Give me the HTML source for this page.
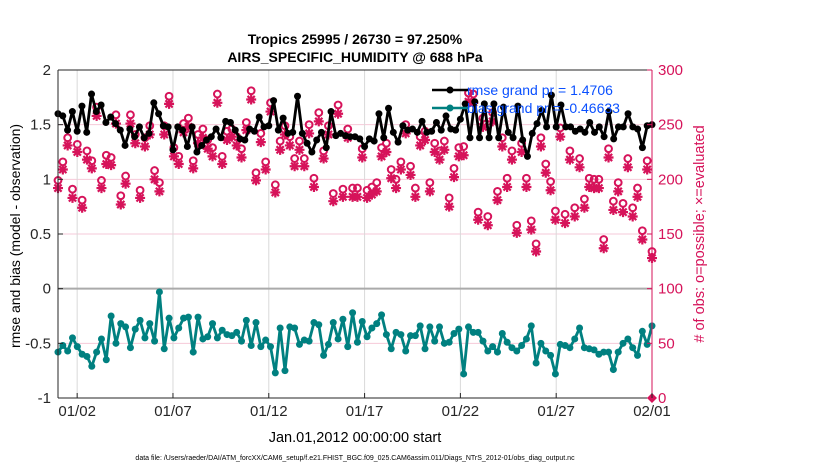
<!DOCTYPE html>
<html><head><meta charset="utf-8">
<style>
html,body{margin:0;padding:0;background:#fff;}
svg{display:block;font-family:"Liberation Sans",Arial,sans-serif;}
</style></head>
<body>
<svg id="chart" width="830" height="470" viewBox="0 0 830 470" xmlns="http://www.w3.org/2000/svg">
<rect width="830" height="470" fill="#fff"/>
<text x="355" y="44" text-anchor="middle" font-size="14" font-weight="bold">Tropics 25995 / 26730 = 97.250%</text>
<text x="355" y="62" text-anchor="middle" font-size="14" font-weight="bold">AIRS_SPECIFIC_HUMIDITY @ 688 hPa</text>
<g id="grid"></g>
<g id="marks"></g>
<g id="axes"></g>
<text transform="translate(20,236) rotate(-90)" text-anchor="middle" font-size="14">rmse and bias (model - observation)</text>
<text transform="translate(704,234) rotate(-90)" text-anchor="middle" font-size="14.5" fill="#d6135a"># of obs: o=possible; ×=evaluated</text>
<text x="355" y="442" text-anchor="middle" font-size="14.5">Jan.01,2012 00:00:00 start</text>
<text x="355" y="460" text-anchor="middle" font-size="7">data file: /Users/raeder/DAI/ATM_forcXX/CAM6_setup/f.e21.FHIST_BGC.f09_025.CAM6assim.011/Diags_NTrS_2012-01/obs_diag_output.nc</text>
<g id="legend">
<line x1="432" y1="90" x2="468" y2="90" stroke="#000" stroke-width="2.5"/><circle cx="450" cy="90" r="3.5" fill="#000"/>
<text x="467" y="95" font-size="14" fill="#0a50ff">rmse grand pr = 1.4706</text>
<line x1="432" y1="108" x2="468" y2="108" stroke="#008080" stroke-width="2.5"/><circle cx="450" cy="108" r="3.5" fill="#008080"/>
<text x="467" y="113" font-size="14" fill="#0a50ff">bias grand pr = -0.46633</text>
</g>
</svg>
<script>
const rmseValues=[1.60,1.58,1.45,1.62,1.44,1.67,1.43,1.78,1.62,1.68,1.52,1.57,1.51,1.45,1.31,1.46,1.39,1.48,1.38,1.42,1.70,1.60,1.49,1.48,1.27,1.48,1.45,1.30,1.48,1.25,1.31,1.36,1.39,1.46,1.38,1.53,1.52,1.45,1.37,1.36,1.46,1.44,1.57,1.48,1.49,1.72,1.45,1.56,1.42,1.43,1.76,1.42,1.33,1.25,1.36,1.43,1.29,1.62,1.40,1.42,1.40,1.39,
1.39,1.37,1.30,1.37,1.35,1.60,1.38,1.65,1.43,1.34,1.49,1.45,1.46,1.43,1.53,1.43,1.44,1.52,1.45,1.58,1.46,1.45,1.55,1.69,1.38,1.71,1.38,1.69,1.38,1.69,1.38,1.66,1.43,1.38,1.67,1.36,1.21,1.42,1.51,1.63,1.48,1.77,1.48,1.68,1.48,1.48,1.44,1.46,1.43,1.52,1.43,1.48,1.39,1.62,1.37,1.48,1.48,1.60,1.48,1.46,1.29,1.49,1.50];
const biasValues=[-0.58,-0.52,-0.57,-0.45,-0.53,-0.60,-0.62,-0.71,-0.58,-0.46,-0.65,-0.25,-0.50,-0.32,-0.35,-0.54,-0.37,-0.29,-0.45,-0.32,-0.48,-0.03,-0.55,-0.27,-0.45,-0.36,-0.27,-0.26,-0.58,-0.26,-0.46,-0.44,-0.32,-0.45,-0.38,-0.42,-0.43,-0.40,-0.48,-0.29,-0.52,-0.31,-0.53,-0.47,-0.53,-0.77,-0.36,-0.75,-0.35,-0.36,-0.51,-0.47,-0.48,-0.31,-0.33,-0.61,-0.51,-0.31,-0.46,-0.28,-0.53,-0.22,-0.49,-0.30,-0.44,-0.36,-0.32,-0.24,-0.42,-0.55,-0.40,-0.42,-0.57,-0.43,-0.43,-0.34,-0.55,-0.35,-0.48,-0.35,-0.50,-0.49,-0.41,-0.37,-0.78,-0.35,-0.40,-0.40,-0.48,-0.57,-0.53,-0.58,-0.41,-0.49,-0.54,-0.57,-0.52,-0.46,-0.34,-0.68,-0.50,-0.57,-0.61,-0.78,-0.51,-0.52,-0.54,-0.46,-0.36,-0.54,-0.55,-0.56,-0.60,-0.58,-0.58,-0.74,-0.58,-0.50,-0.46,-0.54,-0.61,-0.39,-0.51,-0.34];
const obsEvaluated=[192,209,231,183,225,174,218,210,258,192,214,213,251,177,196,251,233,183,230,241,200,189,241,269,221,214,243,248,210,233,238,228,221,270,214,236,239,231,220,245,273,199,234,209,262,188,227,241,231,212,227,212,242,193,253,219,241,180,260,184,238,184,
184,220,183,186,189,221,225,201,192,209,242,204,184,231,236,189,225,218,227,175,202,221,222,271,270,163,248,158,253,181,230,193,218,151,225,193,154,134,230,206,190,163,239,160,218,166,211,174,193,192,192,137,220,172,189,170,211,166,184,145,209,128];
const obsPossible=[199,216,238,191,232,181,226,217,266,199,222,220,259,185,203,259,241,190,238,249,208,197,249,276,229,221,251,256,217,241,246,236,229,278,221,244,246,239,228,252,281,206,242,216,270,195,235,249,239,219,235,219,250,201,261,226,249,187,268,191,246,192,
192,228,190,193,197,229,233,209,200,216,250,212,192,239,244,197,233,226,235,183,210,229,230,279,278,170,256,166,261,189,238,201,226,158,233,201,162,141,238,214,198,171,247,168,226,174,219,182,201,200,200,145,228,180,197,178,219,174,192,153,217,134];
const xTickLabels=["01/02","01/07","01/12","01/17","01/22","01/27","02/01"];
const xTickDays=[1,6,11,16,21,26,31];
const leftTicks=[2,1.5,1,0.5,0,-0.5,-1];
const rightTicks=[300,250,200,150,100,50,0];

const NS="http://www.w3.org/2000/svg";
const X0=58,X1=652,Y0=70,Y1=398;
function xDay(d){return X0+(X1-X0)*d/31;}
function yL(v){return Y1-(v+1)/3*(Y1-Y0);}
function yR(v){return Y1-v/300*(Y1-Y0);}
function xIdx(i,n){return xDay(31*i/(n-1));}
function mk(tag,attrs,parent){const e=document.createElementNS(NS,tag);for(const k in attrs)e.setAttribute(k,attrs[k]);parent.appendChild(e);return e;}
const grid=document.getElementById('grid'),marks=document.getElementById('marks'),axes=document.getElementById('axes');

rightTicks.forEach(t=>{const l=mk('line',{x1:X0,x2:X1,y1:yR(t),y2:yR(t),stroke:'#f6c9d8','stroke-width':1},grid);

});
xTickDays.forEach(d=>{const l=mk('line',{x1:xDay(d),x2:xDay(d),y1:Y0,y2:Y1,stroke:'#d9d9d9','stroke-width':1},grid);

});
const zl=mk('line',{x1:X0,x2:X1,y1:yL(0),y2:yL(0),stroke:'#aaa','stroke-width':2},grid);



function star(cx,cy,g){mk('path',{d:`M${cx-5},${cy}H${cx+5}M${cx},${cy-5}V${cy+5}M${cx-3.6},${cy-3.6}L${cx+3.6},${cy+3.6}M${cx-3.6},${cy+3.6}L${cx+3.6},${cy-3.6}`,stroke:'#d6135a','stroke-width':2.2},g);}
obsPossible.forEach((v,i)=>{const c=mk('circle',{cx:xIdx(i,obsPossible.length),cy:yR(v),r:3.4,fill:'none',stroke:'#d6135a','stroke-width':2},marks);

});
obsEvaluated.forEach((v,i)=>{const g=mk('g',{},marks);


star(xIdx(i,obsEvaluated.length),yR(v),g);});

function series(vals,color,name){
 const pts=vals.map((v,i)=>xIdx(i,vals.length).toFixed(1)+','+yL(v).toFixed(1)).join(' ');
 const pl=mk('polyline',{points:pts,fill:'none',stroke:color,'stroke-width':2.8,'stroke-linejoin':'round'},marks);
 
 
 vals.forEach((v,i)=>{const c=mk('circle',{cx:xIdx(i,vals.length),cy:yL(v),r:3.5,fill:color},marks);
 
 });
}
series(rmseValues,'#000','rmse');
series(biasValues,'#008080','bias');
const dm=mk('path',{d:`M${X1-5},${Y1}L${X1},${Y1-5}L${X1+5},${Y1}L${X1},${Y1+5}Z`,fill:'#d6135a'},marks);



mk('line',{x1:X0,x2:X0,y1:Y0,y2:Y1,stroke:'#262626','stroke-width':1},axes);
mk('line',{x1:X0,x2:X1,y1:Y1,y2:Y1,stroke:'#262626','stroke-width':1},axes);
mk('line',{x1:X0,x2:X1,y1:Y0,y2:Y0,stroke:'#262626','stroke-width':1},axes);
mk('line',{x1:X1,x2:X1,y1:Y0,y2:Y1,stroke:'#d6135a','stroke-width':1},axes);
leftTicks.forEach(t=>{mk('line',{x1:X0,x2:X0+5,y1:yL(t),y2:yL(t),stroke:'#262626'},axes);
const tx=mk('text',{x:X0-7,y:yL(t)+5,'text-anchor':'end','font-size':15,fill:'#262626'},axes);tx.textContent=t;

});
rightTicks.forEach(t=>{mk('line',{x1:X1-5,x2:X1,y1:yR(t),y2:yR(t),stroke:'#d6135a'},axes);
const tx=mk('text',{x:X1+6,y:yR(t)+5,'font-size':15,fill:'#d6135a'},axes);tx.textContent=t;

});
xTickDays.forEach((d,i)=>{mk('line',{x1:xDay(d),x2:xDay(d),y1:Y1,y2:Y1-5,stroke:'#262626'},axes);
const tx=mk('text',{x:xDay(d),y:Y1+18,'text-anchor':'middle','font-size':15,fill:'#262626'},axes);tx.textContent=xTickLabels[i];

});
</script>
</body></html>
